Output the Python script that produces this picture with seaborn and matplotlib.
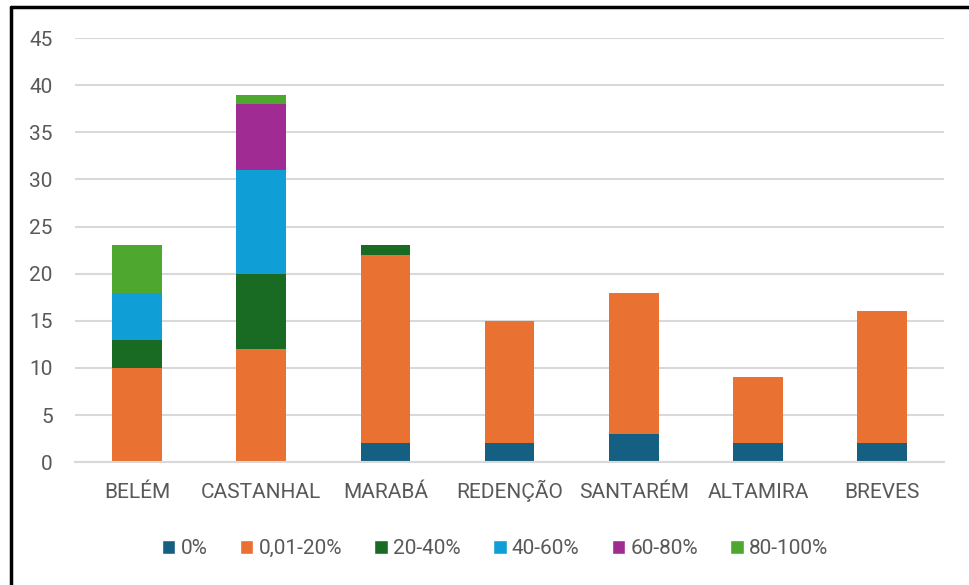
import numpy as np
import pandas as pd
import seaborn as sns
import matplotlib.pyplot as plt
from matplotlib.lines import Line2D
from matplotlib.patches import Patch

# Data
cities = ["BELÉM", "CASTANHAL", "MARABÁ", "REDENÇÃO", "SANTARÉM", "ALTAMIRA", "BREVES"]
series_names = ["0%", "0,01-20%", "20-40%", "40-60%", "60-80%", "80-100%"]
s_0 = [0, 0, 2, 2, 3, 2, 2]
s_0_20 = [10, 12, 20, 13, 15, 7, 14]
s_20_40 = [3, 8, 1, 0, 0, 0, 0]
s_40_60 = [5, 11, 0, 0, 0, 0, 0]
s_60_80 = [0, 7, 0, 0, 0, 0, 0]
s_80_100 = [5, 1, 0, 0, 0, 0, 0]
colors = ["#156082", "#E97132", "#196B24", "#0F9ED5", "#A02B93", "#4EA72E"]

sns.set_theme(style="white")
plt.rcParams["font.family"] = ["Roboto", "DejaVu Sans"]

df = pd.DataFrame({"city": cities})
all_series = [s_0, s_0_20, s_20_40, s_40_60, s_60_80, s_80_100]

fig = plt.figure(figsize=(9.69, 5.85), dpi=100)
ax = fig.add_axes([0.0774, 0.210, 0.897, 0.725])

bottom = np.zeros(len(cities))
for name, vals, c in zip(series_names, all_series, colors):
    df["v"] = vals
    sns.barplot(data=df, x="city", y="v", color=c, width=0.4, bottom=bottom,
                ax=ax, errorbar=None, saturation=1, linewidth=0)
    bottom = bottom + np.array(vals)

ax.set_ylim(0, 45)
ax.set_yticks(range(0, 50, 5))
ax.set_xlim(-0.5, len(cities) - 0.5)
ax.yaxis.grid(True, color="#D9D9D9", linewidth=1.5)
ax.set_axisbelow(True)
for s in ["left", "right", "top"]:
    ax.spines[s].set_visible(False)
ax.spines["bottom"].set_color("#D9D9D9")
ax.spines["bottom"].set_linewidth(1.5)
ax.set_xlabel("")
ax.set_ylabel("")
ax.tick_params(axis="both", length=0, labelsize=15, colors="#595959")
ax.tick_params(axis="y", pad=16)
ax.tick_params(axis="x", pad=26)
for lab in ax.get_xticklabels():
    lab.set_va("baseline")

handles = [Patch(facecolor=c, label=n) for n, c in zip(series_names, colors)]
fig.legend(handles=handles, loc="center", bbox_to_anchor=(0.511, 0.062), ncol=6,
           frameon=False, fontsize=15, handlelength=0.65, handleheight=0.65,
           handletextpad=0.25, columnspacing=1.55, labelcolor="#595959")

# border (left and top edges visible in the crop)
fig.add_artist(Line2D([0.011, 0.011], [0, 0.988], color="black", linewidth=2.5,
                      transform=fig.transFigure))
fig.add_artist(Line2D([0.011, 1.0], [0.988, 0.988], color="black", linewidth=2.5,
                      transform=fig.transFigure))

fig.savefig("out.png", dpi=100)
